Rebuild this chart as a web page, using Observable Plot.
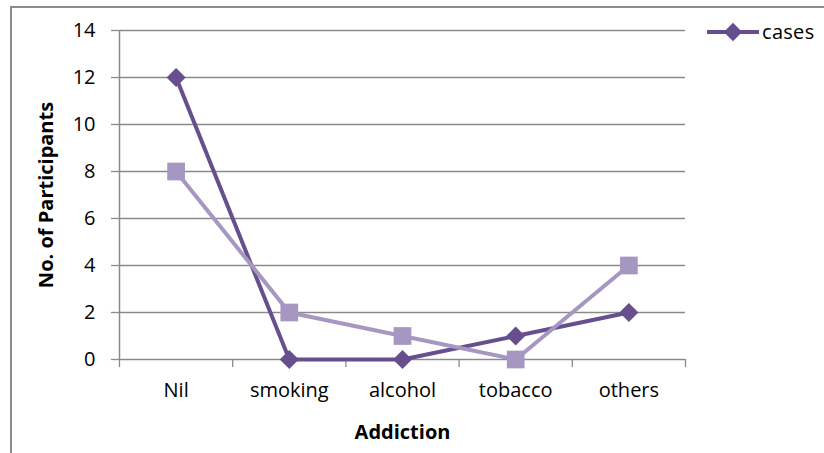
<!DOCTYPE html>
<html>
<head>
<meta charset="utf-8">
<script src="https://cdn.jsdelivr.net/npm/d3@7"></script>
<script src="https://cdn.jsdelivr.net/npm/@observablehq/plot@0.6"></script>
<style>
  html, body { margin: 0; padding: 0; background: #fff; }
  #wrap { position: relative; width: 824px; height: 453px; overflow: hidden; font-family: "Open Sans", sans-serif; }
  #border { position: absolute; left: 10px; top: 6px; width: 900px; height: 600px; border-left: 2px solid #8c8c8c; border-top: 2px solid #8c8c8c; box-sizing: border-box; }
  #chart { position: absolute; left: 0; top: 0; }
  #legend { position: absolute; left: 700px; top: 18px; }
</style>
</head>
<body>
<div id="wrap">
  <div id="border"></div>
  <div id="chart"></div>
  <div id="legend"></div>
</div>
<script>
const categories = ["Nil", "smoking", "alcohol", "tobacco", "others"];
const cases = [12, 0, 0, 1, 2];
const series2 = [8, 2, 1, 0, 4];
const yTicks = [0, 2, 4, 6, 8, 10, 12, 14];
const seriesNames = ["cases", "series 2"];
const xTitle = "Addiction";
const yTitle = "No. of Participants";

const dark = "#674f8e";
const light = "#a697c2";
const gray = "#8a8a8a";

const data = categories.map((c, i) => ({cat: c, i, cases: cases[i], s2: series2[i]}));
const n = categories.length;
const boundaries = d3.range(n + 1);
const centers = d3.range(n).map(i => i + 0.5);

const chart = Plot.plot({
  width: 824,
  height: 453,
  marginTop: 30,
  marginBottom: 94,
  marginLeft: 119,
  marginRight: 139,
  style: {fontFamily: "'Open Sans', sans-serif", fontSize: "20px", color: "#000", background: "transparent"},
  x: {domain: [0, n], axis: null},
  y: {domain: [0, 14], axis: null},
  marks: [
    Plot.gridY(yTicks, {stroke: gray, strokeOpacity: 1, strokeWidth: 1.3}),
    Plot.axisY(yTicks, {tickSize: 8, tickPadding: 16, stroke: gray, strokeWidth: 1.3, fontSize: 20, label: null, fill: "#000", style: {letterSpacing: "1px"}}),
    Plot.ruleX([0], {stroke: gray, strokeWidth: 1.5}),
    Plot.axisX(boundaries, {tickSize: 8, stroke: gray, strokeWidth: 1.3, tickFormat: () => "", label: null}),
    Plot.axisX(centers, {tickSize: 0, tickPadding: 23, tickFormat: d => categories[Math.floor(d)], fontSize: 20, label: null, fill: "#000", style: {letterSpacing: "1px"}}),
    Plot.line(data, {x: d => d.i + 0.5, y: "cases", stroke: dark, strokeWidth: 4}),
    Plot.dot(data, {x: d => d.i + 0.5, y: "cases", symbol: "square", rotate: 45, r: 7.6, fill: dark, stroke: "none"}),
    Plot.line(data, {x: d => d.i + 0.5, y: "s2", stroke: light, strokeWidth: 4}),
    Plot.dot(data, {x: d => d.i + 0.5, y: "s2", symbol: "square", r: 10, fill: light, stroke: "none"}),
    Plot.text([xTitle], {frameAnchor: "bottom", dy: 73, lineAnchor: "middle", textAnchor: "middle", fontWeight: "bold", fontSize: 20, fill: "#000", style: {letterSpacing: "0.8px"}}),
    Plot.text([yTitle], {frameAnchor: "left", dx: -73, rotate: -90, textAnchor: "middle", lineAnchor: "middle", fontWeight: "bold", fontSize: 20, fill: "#000", style: {letterSpacing: "0.5px"}})
  ]
});
document.getElementById("chart").appendChild(chart);

// Legend (only the first series is shown, as in the reference)
const lg = d3.select("#legend").append("svg").attr("width", 124).attr("height", 30);
lg.append("line").attr("x1", 7).attr("x2", 59).attr("y1", 14).attr("y2", 14)
  .attr("stroke", dark).attr("stroke-width", 4);
lg.append("rect").attr("x", -6.5).attr("y", -6.5).attr("width", 13).attr("height", 13)
  .attr("fill", dark).attr("transform", "translate(33,14) rotate(45)");
lg.append("text").attr("x", 62).attr("y", 14).attr("dy", "0.35em")
  .attr("font-family", "'Open Sans', sans-serif").attr("font-size", 20).attr("letter-spacing", "0.3px")
  .text(seriesNames[0]);
</script>
</body>
</html>
